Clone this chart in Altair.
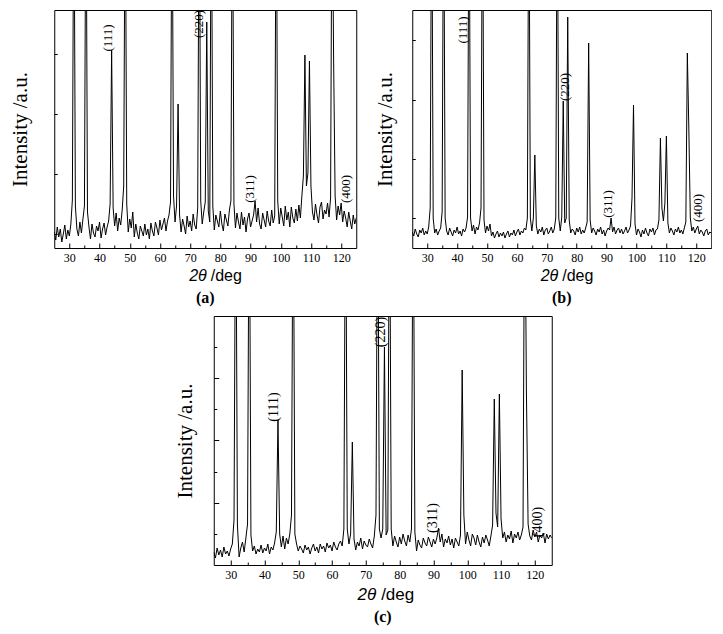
import altair as alt
import pandas as pd

two_theta = [round(25 + 0.5 * i, 1) for i in range(201)]

intensity_a = [
    16, 8, 21, 11, 19, 6, 14, 23, 9, 18, 12, 24, 48, 400, 42, 19, 12, 26, 15, 29,
    42, 400, 36, 21, 9, 24, 15, 11, 22, 17, 26, 10, 19, 25, 13, 21, 27, 44, 198, 40,
    22, 35, 17, 30, 23, 38, 62, 400, 44, 16, 29, 20, 36, 11, 24, 15, 9, 22, 17, 12,
    24, 13, 19, 9, 25, 17, 12, 26, 20, 13, 28, 18, 24, 30, 17, 27, 33, 46, 400, 52,
    26, 42, 144, 33, 16, 29, 22, 14, 32, 21, 27, 17, 34, 23, 19, 40, 400, 47, 24, 36,
    46, 226, 37, 26, 400, 42, 18, 33, 27, 21, 37, 24, 17, 34, 28, 22, 38, 47, 400, 44,
    20, 35, 26, 19, 36, 23, 31, 16, 29, 35, 21, 27, 33, 47, 26, 40, 24, 19, 35, 28,
    21, 37, 27, 22, 38, 25, 32, 400, 47, 24, 40, 31, 22, 42, 28, 36, 21, 41, 30, 25,
    39, 27, 43, 30, 52, 72, 193, 62, 75, 187, 62, 36, 28, 44, 33, 25, 41, 46, 29, 38,
    34, 45, 31, 50, 400, 190, 52, 28, 42, 33, 45, 26, 37, 30, 21, 36, 27, 19, 33, 24,
    30,
]

intensity_b = [
    16, 12, 19, 14, 11, 18, 15, 20, 13, 17, 14, 21, 40, 400, 30, 15, 19, 13, 17, 20,
    36, 400, 30, 17, 13, 20, 16, 12, 18, 15, 21, 14, 17, 12, 19, 16, 20, 31, 400, 30,
    17, 23, 14, 21, 18, 25, 40, 400, 28, 15, 22, 17, 24, 12, 16, 10, 14, 17, 11, 15,
    12, 16, 10, 14, 17, 11, 15, 13, 18, 12, 16, 19, 13, 17, 15, 20, 18, 30, 400, 30,
    17, 30, 93, 22, 14, 19, 16, 21, 13, 18, 20, 14, 17, 21, 15, 19, 30, 400, 30, 17,
    31, 147, 25, 30, 231, 28, 15, 19, 17, 13, 20, 16, 21, 14, 18, 15, 20, 26, 205, 28,
    15, 20, 17, 13, 19, 16, 21, 14, 18, 12, 17, 20, 18, 30, 16, 21, 14, 18, 20, 15,
    19, 14, 17, 21, 15, 18, 22, 50, 143, 24, 13, 19, 16, 11, 18, 14, 20, 15, 12, 19,
    16, 20, 13, 18, 19, 28, 110, 40, 27, 45, 112, 25, 15, 20, 17, 13, 19, 16, 21, 15,
    18, 14, 20, 26, 195, 120, 30, 17, 21, 15, 19, 22, 14, 18, 16, 12, 17, 19, 13, 16,
    15,
]

intensity_c = [
    13, 7, 17, 10, 15, 8, 18, 11, 14, 9, 16, 21, 45, 420, 40, 8, 17, 23, 13, 27,
    41, 420, 30, 14, 19, 11, 16, 13, 20, 12, 17, 14, 21, 11, 18, 15, 22, 33, 145, 31,
    18, 29, 16, 27, 21, 31, 50, 420, 31, 21, 14, 19, 16, 12, 20, 15, 18, 11, 17, 21,
    14, 18, 12, 21, 16, 19, 13, 22, 17, 20, 14, 23, 18, 15, 21, 24, 19, 36, 420, 36,
    21, 31, 123, 26, 15, 23, 19, 27, 16, 24, 20, 18, 26, 21, 17, 29, 50, 420, 36, 27,
    36, 218, 30, 35, 420, 36, 19, 29, 23, 18, 28, 21, 31, 24, 19, 30, 23, 36, 420, 33,
    14, 25, 20, 17, 27, 22, 19, 28, 23, 18, 26, 21, 27, 37, 23, 31, 18, 26, 22, 29,
    20, 26, 17, 27, 23, 19, 30, 195, 50, 21, 33, 25, 19, 31, 27, 20, 30, 23, 18, 28,
    22, 30, 25, 19, 29, 40, 166, 52, 38, 171, 46, 27, 33, 23, 30, 26, 34, 22, 31, 27,
    33, 25, 30, 38, 420, 175, 41, 29, 25, 35, 28, 33, 23, 30, 27, 32, 22, 31, 26, 30,
    27,
]

hkl = ["(111)", "(220)", "(311)", "(400)"]
hkl_x_a = [42.7, 72.8, 89.7, 121.7]
hkl_y_a = [210, 224, 59, 59]
hkl_x_b = [42.0, 76.0, 90.5, 120.6]
hkl_y_b = [218, 161, 44, 40]
hkl_x_c = [42.7, 74.5, 90.0, 120.9]
hkl_y_c = [158, 233, 47, 43]

x_major = [30, 40, 50, 60, 70, 80, 90, 100, 110, 120]
x_minor = [35, 45, 55, 65, 75, 85, 95, 105, 115]
y_ticks_a = [14, 44, 74, 104, 134, 164, 194, 224]
y_major_a = [44, 104, 164, 224]
y_ticks_b = [30, 59, 89, 119, 148, 178, 208]
y_major_b = [59, 119, 178]
y_ticks_c = [31, 62, 93, 125, 156, 187, 218]
y_major_c = [62, 125, 187]

SERIF = "Liberation Serif"
SANS = "Liberation Sans"


def panel(intens, hx, hy, yticks, ymajor, ymax, w, h, caption,
          title_pad, x2t_right, deg_left, xt_base, xt_size, hkl_size):
    df = pd.DataFrame({"tt": two_theta, "I": intens})
    xs = alt.Scale(domain=[25, 125], nice=False, zero=False)
    ys = alt.Scale(domain=[0, ymax], nice=False, zero=False)
    major_test = "indexof(%s, datum.value) >= 0" % str(ymajor)
    line = alt.Chart(df).mark_line(color="black", strokeWidth=1, clip=True).encode(
        x=alt.X("tt:Q", scale=xs, axis=alt.Axis(
            values=x_major, title=None, grid=False, domain=False, orient="bottom",
            labelOverlap=False, tickSize=alt.ExprRef("-5"),
            tickColor="black", tickWidth=1, labelFont=SERIF, labelFontSize=12,
            labelColor="black", labelPadding=9.5, labelFlush=False)),
        y=alt.Y("I:Q", scale=ys, axis=alt.Axis(
            values=yticks, title="Intensity /a.u.", labels=False, grid=False, domain=False,
            tickSize={"condition": {"test": major_test, "value": -5}, "value": -3},
            tickColor="black", tickWidth=1, titleFont=SERIF, titleFontSize=21,
            titleFontWeight="normal", titleColor="black", titlePadding=title_pad)),
    )
    labels = alt.Chart(pd.DataFrame({"hkl": hkl, "tt": hx, "I": hy})).mark_text(
        angle=270, font=SERIF, fontSize=hkl_size, color="black"
    ).encode(
        x=alt.X("tt:Q", scale=xs, axis=alt.Axis(
            values=x_minor, title=None, labels=False, grid=False, domain=False,
            orient="bottom", tickSize=alt.ExprRef("-3"), tickColor="black", tickWidth=1)),
        y=alt.Y("I:Q", scale=ys),
        text="hkl:N",
    )
    t1 = alt.Chart(pd.DataFrame({"t": ["2\u03b8"]})).mark_text(
        font=SANS, fontSize=xt_size, fontStyle="italic", align="right",
        baseline="alphabetic", color="black"
    ).encode(x=alt.value(x2t_right), y=alt.value(xt_base), text="t:N")
    t2 = alt.Chart(pd.DataFrame({"t": ["/deg"]})).mark_text(
        font=SANS, fontSize=xt_size, align="left", baseline="alphabetic", color="black"
    ).encode(x=alt.value(deg_left), y=alt.value(xt_base), text="t:N")
    return alt.layer(line, labels, t1, t2).resolve_axis(x="independent").properties(
        width=w, height=h,
        title=alt.TitleParams(caption, orient="bottom", font=SERIF, fontSize=16,
                              fontWeight="bold", color="black", offset=6),
    )


pa = panel(intensity_a, hkl_x_a, hkl_y_a, y_ticks_a, y_major_a, 238, 302, 238, "(a)",
           23, 152.5, 156.5, 271, 16, 13)
pb = panel(intensity_b, hkl_x_b, hkl_y_b, y_ticks_b, y_major_b, 238, 299, 238, "(b)",
           16, 146, 150, 271, 16, 13)
pc = panel(intensity_c, hkl_x_c, hkl_y_c, y_ticks_c, y_major_c, 249, 338, 249, "(c)",
           18, 162.4, 167.4, 284, 17, 14)

top = alt.hconcat(pa, pb, spacing=17)
chart = alt.vconcat(top, pc, spacing=8, center=True).properties(
    padding={"left": 9, "top": 9, "right": 0, "bottom": 0},
    background="white",
).configure_view(stroke="black", strokeWidth=1)

chart.save("out.html", embed_options={"renderer": "svg", "actions": False})
